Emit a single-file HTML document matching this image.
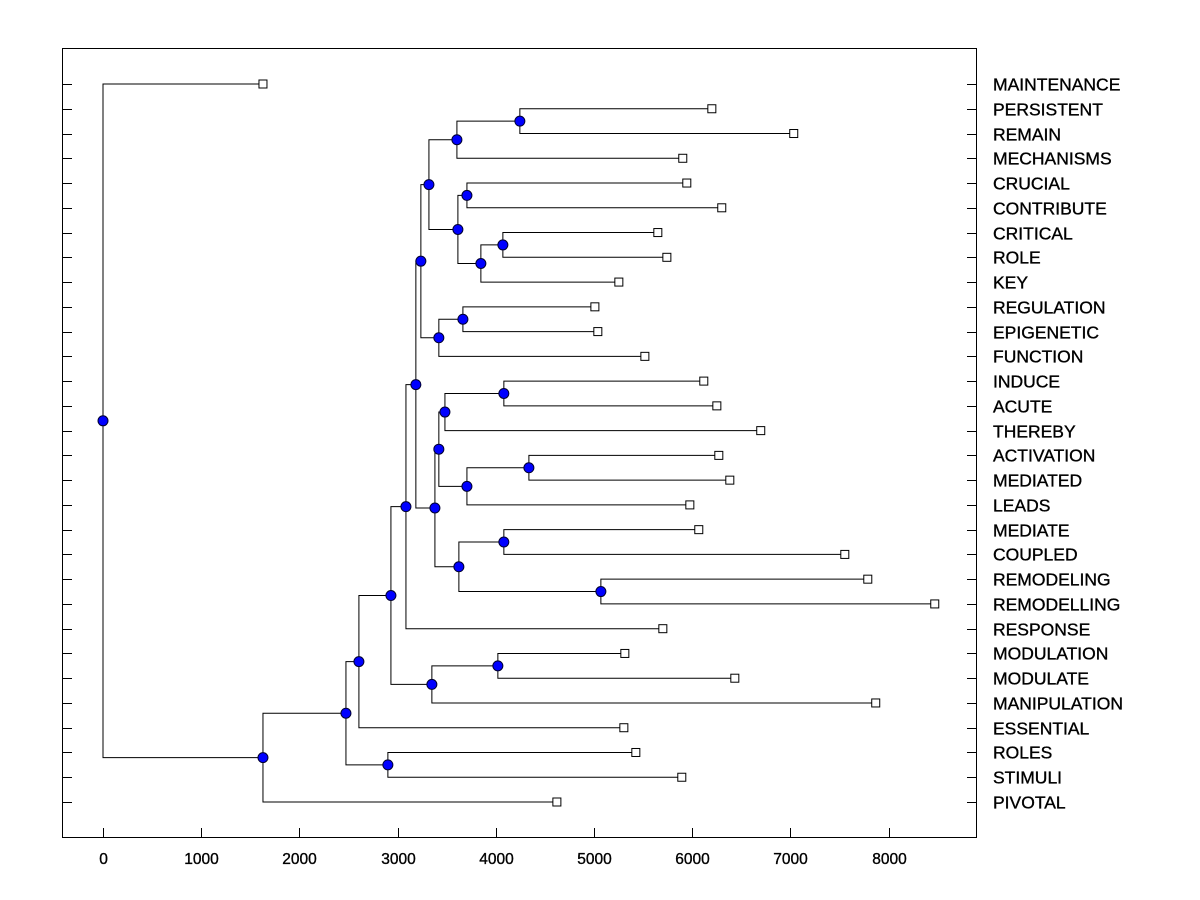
<!DOCTYPE html>
<html><head><meta charset="utf-8"><style>
body{margin:0;background:#fff;}
svg{display:block;font-family:"Liberation Sans",Arial,sans-serif;}
</style></head><body>
<svg id="chart" width="1200" height="900" viewBox="0 0 1200 900" xmlns="http://www.w3.org/2000/svg">
<rect x="62.5" y="48.5" width="914" height="789" fill="none" stroke="#000" stroke-width="1"/>
<g id="ticks"></g><g id="links"></g><g id="marks"></g><g id="labels"></g>
</svg>
<script>
const leafNames = ["MAINTENANCE","PERSISTENT","REMAIN","MECHANISMS","CRUCIAL","CONTRIBUTE","CRITICAL","ROLE","KEY","REGULATION","EPIGENETIC","FUNCTION","INDUCE","ACUTE","THEREBY","ACTIVATION","MEDIATED","LEADS","MEDIATE","COUPLED","REMODELING","REMODELLING","RESPONSE","MODULATION","MODULATE","MANIPULATION","ESSENTIAL","ROLES","STIMULI","PIVOTAL"];
const leafValues = [1629,6200,7034,5904,5945,6301,5650,5742,5253,5009,5039,5518,6118,6251,6698,6271,6383,5976,6067,7554,7788,8470,5701,5314,6434,7869,5304,5426,5894,4622];
const mergeLeft = [1,30,6,32,4,34,31,9,37,36,12,40,15,42,41,18,20,45,44,39,49,23,51,50,53,27,54,56,0];
const mergeRight = [2,3,7,8,5,33,35,10,11,38,13,14,16,17,43,19,21,46,47,48,22,24,25,52,26,28,55,29,57];
const mergeHeights = [4245,3604,4072,3848,3706,3614,3319,3665,3420,3237,4082,3482,4337,3706,3420,4082,5070,3624,3380,3186,3085,4021,3349,2932,2606,2901,2474,1629,0];
const xTicks = [0,1000,2000,3000,4000,5000,6000,7000,8000];

const NS="http://www.w3.org/2000/svg";
const X0=103, XS=0.0982, Y0=84, YS=(802-84)/29;
const xPos=v=>X0+v*XS;
const yPos=i=>Y0+i*YS;
function mk(tag,attrs,parent){const e=document.createElementNS(NS,tag);for(const k in attrs)e.setAttribute(k,attrs[k]);document.getElementById(parent).appendChild(e);return e;}

xTicks.forEach(t=>{
  const x=Math.round(xPos(t))+0.5;
  const l=mk('line',{x1:x,x2:x,y1:828,y2:838,stroke:'#000'},'ticks');
  
  
  const tx=mk('text',{x:x,y:864,'text-anchor':'middle','font-size':'15.5',fill:'#000',stroke:'#000','stroke-width':'0.35'},'ticks');
  tx.textContent=t;
  
  
});
leafNames.forEach((n,i)=>{
  const y=Math.round(yPos(i))+0.5;
  const a=mk('line',{x1:62,x2:72,y1:y,y2:y,stroke:'#000'},'ticks');
  
  
  const b=mk('line',{x1:967,x2:977,y1:y,y2:y,stroke:'#000'},'ticks');
  
  
  const t=mk('text',{x:993,y:y+6,'font-size':'17.5',fill:'#000',stroke:'#000','stroke-width':'0.35'},'labels');
  t.textContent=n;
  
  
});

const nx=[],ny=[];
leafValues.forEach((v,i)=>{nx[i]=xPos(v);ny[i]=yPos(i);});
const N=leafValues.length;
mergeHeights.forEach((h,k)=>{
  const id=N+k,a=mergeLeft[k],b=mergeRight[k];
  nx[id]=xPos(h);ny[id]=(ny[a]+ny[b])/2;
  const x=nx[id];
  const p=mk('path',{d:`M${nx[a]} ${ny[a]}H${x}V${ny[b]}H${nx[b]}`,fill:'none',stroke:'#000','stroke-width':1},'links');
  
  
});
leafValues.forEach((v,i)=>{
  const r=mk('rect',{x:nx[i]-4,y:ny[i]-4,width:8,height:8,fill:'#fff',stroke:'#000'},'marks');
  
  
});
mergeHeights.forEach((h,k)=>{
  const id=N+k;
  const c=mk('circle',{cx:nx[id],cy:ny[id],r:5,fill:'#0000ff',stroke:'#000030','stroke-width':1},'marks');
  
  
});
</script>
</body></html>
